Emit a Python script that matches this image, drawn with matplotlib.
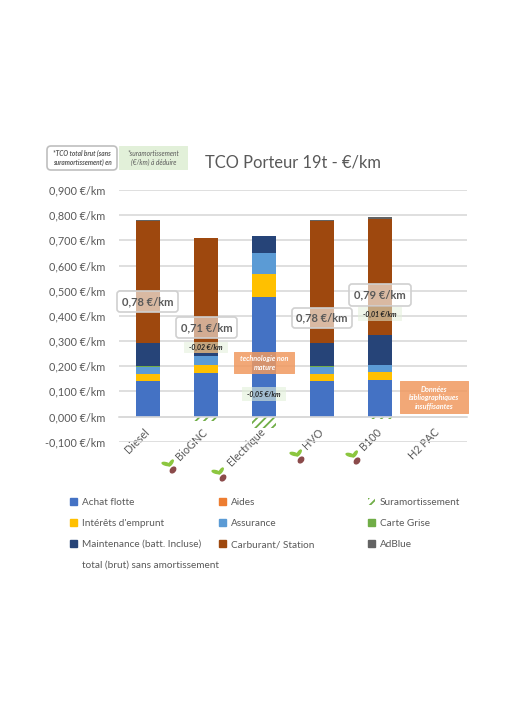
import numpy as np
import matplotlib.pyplot as plt
from matplotlib.patches import FancyBboxPatch, Ellipse, Patch
from matplotlib.lines import Line2D
from matplotlib.transforms import Affine2D

plt.rcParams['font.family'] = ['Lato', 'DejaVu Sans']
plt.rcParams['hatch.linewidth'] = 1.3

categories = ["Diesel", "BioGNC", "Electrique", "HVO", "B100", "H2 PAC"]
achat = [0.143, 0.173, 0.475, 0.143, 0.146, 0]
aides = [0, 0, 0, 0, 0, 0]
interets = [0.027, 0.033, 0.091, 0.027, 0.029, 0]
assurance = [0.027, 0.033, 0.085, 0.027, 0.030, 0]
carte_grise = [0.002, 0, 0, 0.002, 0, 0]
maintenance = [0.093, 0.014, 0.066, 0.093, 0.119, 0]
carburant = [0.485, 0.456, 0, 0.485, 0.462, 0]
adblue = [0.003, 0, 0, 0.004, 0.005, 0]
suramort = [0, -0.016, -0.047, 0, -0.01, 0]
yticks = [-0.1, 0, 0.1, 0.2, 0.3, 0.4, 0.5, 0.6, 0.7, 0.8, 0.9]

series = [
    ("Achat flotte", achat, "#4472C4"),
    ("Aides", aides, "#ED7D31"),
    ("Intérêts d'emprunt", interets, "#FFC000"),
    ("Assurance", assurance, "#5B9BD5"),
    ("Carte Grise", carte_grise, "#70AD47"),
    ("Maintenance (batt. Incluse)", maintenance, "#264478"),
    ("Carburant/ Station", carburant, "#9E480E"),
    ("AdBlue", adblue, "#636363"),
]
colors = {s[0]: s[2] for s in series}
grey = "#595959"

fig = plt.figure(figsize=(5.2, 7.2), dpi=100)
ax = fig.add_axes([119 / 520, 1 - 441.7 / 720, 348 / 520, 251.7 / 720])
x = np.arange(len(categories))
bottom = np.zeros(len(categories))
for nom, valeurs, couleur in series:
    ax.bar(x, valeurs, 0.4, bottom=bottom, color=couleur, zorder=2)
    bottom += np.array(valeurs)
ax.bar(x, suramort, 0.4, facecolor="white", edgecolor="#70AD47", hatch="////", linewidth=0, zorder=2)

# a faire avant les ticks: set_position remet les labels a zero
for s in ["top", "right", "left"]:
    ax.spines[s].set_visible(False)
ax.spines["bottom"].set_position(("data", 0))
ax.spines["bottom"].set_color("#D9D9D9")
ax.spines["bottom"].set_linewidth(1.2)

ax.set_xlim(-0.5, 5.5)
ax.set_ylim(-0.1, 0.9)
ax.set_yticks(yticks)
ax.set_yticklabels([f"{v:.3f} €/km".replace(".", ",") for v in yticks], fontsize=7.8, color=grey)
ax.set_xticks(x)
ax.set_xticklabels(categories, rotation=45, ha="right", va="top", rotation_mode="anchor", fontsize=7.8, color=grey)
ax.tick_params(length=0)
ax.tick_params(axis="y", pad=10)
ax.tick_params(axis="x", pad=7)
for lab in ax.get_xticklabels():
    lab.set_transform(lab.get_transform() + Affine2D().translate(-4, 0))
ax.grid(axis="y", color="#D9D9D9", linewidth=1.2, zorder=0)

# annotations en pixels de l'image
px = Affine2D().scale(1, -1).translate(0, 720)


def boite(x0, x1, y0, y1, texte, fc, ec="none", alpha=1.0, fs=8, tc=grey, w="bold", st="normal", r=3):
    fig.add_artist(FancyBboxPatch((x0 + r, y0 + r), x1 - x0 - 2 * r, y1 - y0 - 2 * r,
                                  boxstyle=f"round,pad={r},rounding_size={r}", transform=px,
                                  facecolor=fc, edgecolor="none", alpha=alpha, zorder=5))
    if ec != "none":
        fig.add_artist(FancyBboxPatch((x0 + r, y0 + r), x1 - x0 - 2 * r, y1 - y0 - 2 * r,
                                      boxstyle=f"round,pad={r},rounding_size={r}", transform=px,
                                      facecolor="none", edgecolor=ec, linewidth=1.2, zorder=5))
    fig.text((x0 + x1) / 2 / 520, 1 - (y0 + y1) / 2 / 720, texte, ha="center", va="center",
             fontsize=fs, color=tc, fontweight=w, fontstyle=st, zorder=6, linespacing=1.25)


boite(47, 117, 146, 170, "*TCO total brut (sans\nsuramortissement) en", "white", ec="#BFBFBF", fs=4.7, st="italic", r=4)
boite(119, 188, 146, 170, "*suramortissement\n(€/km) à déduire", "#E2F0D9", fs=4.8, w="normal", st="italic", r=0.5)
boite(117, 178, 291, 312, "0,78 €/km", "white", ec="#D0D0D0", alpha=0.62)
boite(176, 237, 317, 338, "0,71 €/km", "white", ec="#D0D0D0", alpha=0.55)
boite(292, 352, 308, 328, "0,78 €/km", "white", ec="#D0D0D0", alpha=0.62)
boite(349, 411, 284, 306, "0,79 €/km", "white", ec="#D0D0D0", alpha=0.62)
boite(184, 228, 342, 353, "-0,02 €/km", "#E2F0D9", alpha=0.55, fs=5, tc="#222222", st="italic", r=0.5)
boite(242, 286, 387, 401, "-0,05 €/km", "#E2F0D9", alpha=0.6, fs=5, tc="#222222", st="italic", r=0.5)
boite(358, 402, 307, 321, "-0,01 €/km", "#E2F0D9", alpha=0.55, fs=5, tc="#222222", st="italic", r=0.5)
boite(234, 295, 352, 374, "technologie non\nmature", "#F0995F", alpha=0.85, fs=5.2, tc="white", st="italic", r=0.5)
boite(400, 469, 381, 414, "Données\nbibliographiques\ninsuffisantes", "#F0995F", alpha=0.85, fs=5.2, tc="white", st="italic", r=0.5)

fig.text(293 / 520, 1 - 162 / 720, "TCO Porteur 19t - €/km", ha="center", va="center", fontsize=11.9, color=grey)

# petites pousses sous les filieres bio
for xp, yp in [(170, 465), (220, 473), (298, 455), (354, 456)]:
    fig.add_artist(Ellipse((xp - 4, yp - 1), 8, 2.6, angle=15, transform=px, color="#8CC63F", zorder=4))
    fig.add_artist(Ellipse((xp + 1, yp - 2), 7, 2.4, angle=-55, transform=px, color="#8CC63F", zorder=4))
    fig.add_artist(Ellipse((xp + 3, yp + 5), 4.5, 6.5, angle=40, transform=px, color="#8B4A4A", zorder=4))

colonnes = [
    (70, [Patch(color=colors["Achat flotte"], label="Achat flotte"),
          Patch(color=colors["Intérêts d'emprunt"], label="Intérêts d'emprunt"),
          Patch(color=colors["Maintenance (batt. Incluse)"], label="Maintenance (batt. Incluse)"),
          Line2D([], [], linestyle="none", label="total (brut) sans amortissement")]),
    (219, [Patch(color=colors["Aides"], label="Aides"),
           Patch(color=colors["Assurance"], label="Assurance"),
           Patch(color=colors["Carburant/ Station"], label="Carburant/ Station")]),
    (368, [Patch(facecolor="white", edgecolor="#70AD47", hatch="////", linewidth=0, label="Suramortissement"),
           Patch(color=colors["Carte Grise"], label="Carte Grise"),
           Patch(color=colors["AdBlue"], label="AdBlue")]),
]
for xp, handles in colonnes:
    fig.legend(handles=handles, loc="upper left", bbox_to_anchor=(xp / 520, 1 - 498 / 720),
               frameon=False, fontsize=7.2, labelcolor=grey, handlelength=0.65, handleheight=0.65,
               handletextpad=0.55, labelspacing=1.2, borderpad=0, borderaxespad=0)

fig.savefig("out.png", dpi=100, facecolor="white")
